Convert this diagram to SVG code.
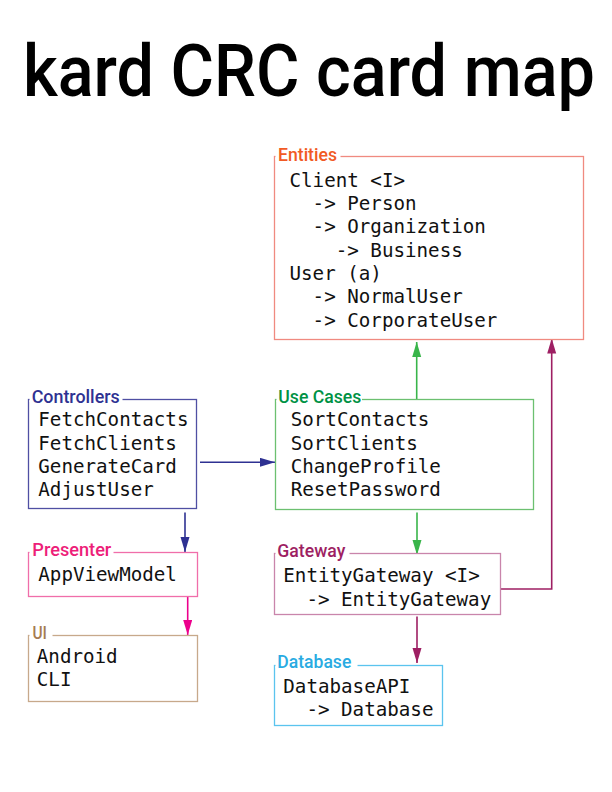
<svg xmlns="http://www.w3.org/2000/svg" width="612" height="792" viewBox="0 0 612 792">
<style>
  .title { font-family: Roboto, "Liberation Sans", sans-serif; font-weight: 500; font-size: 72px; fill: #000; }
  .lbl { font-family: Roboto, "Liberation Sans", sans-serif; font-weight: 500; font-size: 18px; }
  .mono { font-family: "DejaVu Sans Mono", "Liberation Mono", monospace; font-size: 19.2px; fill: #111; }
  .box { fill: #fff; stroke-width: 1.3; }
  .bg { fill: #fff; stroke: none; }
  .con { fill: none; stroke-width: 1.6; }
</style>
<defs>
  <marker id="ah-navy" markerUnits="userSpaceOnUse" markerWidth="16" markerHeight="10" refX="15" refY="4.5" orient="auto"><path d="M0,0 L15,4.5 L0,9 z" fill="#2E3192"/></marker>
  <marker id="ah-green" markerUnits="userSpaceOnUse" markerWidth="16" markerHeight="10" refX="15" refY="4.5" orient="auto"><path d="M0,0 L15,4.5 L0,9 z" fill="#39B54A"/></marker>
  <marker id="ah-pink" markerUnits="userSpaceOnUse" markerWidth="16" markerHeight="10" refX="15" refY="4.5" orient="auto"><path d="M0,0 L15,4.5 L0,9 z" fill="#EC008C"/></marker>
  <marker id="ah-purple" markerUnits="userSpaceOnUse" markerWidth="16" markerHeight="10" refX="15" refY="4.5" orient="auto"><path d="M0,0 L15,4.5 L0,9 z" fill="#9E1F63"/></marker>
</defs>
<rect width="612" height="792" fill="#fff"/>
<text class="title" x="23" y="95.5" textLength="572" lengthAdjust="spacingAndGlyphs">kard CRC card map</text>

<g id="connectors">
  <line class="con" stroke="#2E3192" x1="200" y1="462.3" x2="275" y2="462.3" marker-end="url(#ah-navy)"/>
  <line class="con" stroke="#2E3192" x1="185" y1="512.5" x2="185" y2="552" marker-end="url(#ah-navy)"/>
  <line class="con" stroke="#EC008C" x1="187.7" y1="597" x2="187.7" y2="635" marker-end="url(#ah-pink)"/>
  <line class="con" stroke="#39B54A" x1="416.7" y1="399.5" x2="416.7" y2="342" marker-end="url(#ah-green)"/>
  <line class="con" stroke="#39B54A" x1="417" y1="512.5" x2="417" y2="555" marker-end="url(#ah-green)"/>
  <polyline class="con" stroke="#9E1F63" points="501,589 551.7,589 551.7,338.5" marker-end="url(#ah-purple)"/>
  <line class="con" stroke="#9E1F63" x1="417" y1="616.5" x2="417" y2="663" marker-end="url(#ah-purple)"/>
</g>

<g id="entities">
  <rect class="box" stroke="#F08A80" x="274.5" y="156.5" width="309" height="183"/>
  <rect class="bg" x="275.5" y="146" width="65" height="14"/>
  <text class="lbl" fill="#F15A24" x="278" y="161" textLength="59" lengthAdjust="spacingAndGlyphs">Entities</text>
  <text class="mono" x="289.5" y="186.5">Client &lt;I&gt;</text>
  <text class="mono" x="312.6" y="209.8">-&gt; Person</text>
  <text class="mono" x="312.6" y="233.1">-&gt; Organization</text>
  <text class="mono" x="335.7" y="256.5">-&gt; Business</text>
  <text class="mono" x="289.5" y="280">User (a)</text>
  <text class="mono" x="312.6" y="303.4">-&gt; NormalUser</text>
  <text class="mono" x="312.6" y="326.7">-&gt; CorporateUser</text>
</g>

<g id="controllers">
  <rect class="box" stroke="#4F4FA3" x="28.5" y="399.5" width="168" height="109"/>
  <rect class="bg" x="29.5" y="389" width="93" height="13"/>
  <text class="lbl" fill="#2E3192" x="31.7" y="403" textLength="88" lengthAdjust="spacingAndGlyphs">Controllers</text>
  <text class="mono" x="38.3" y="426.4">FetchContacts</text>
  <text class="mono" x="38.3" y="449.7">FetchClients</text>
  <text class="mono" x="38.3" y="473">GenerateCard</text>
  <text class="mono" x="38.3" y="496.4">AdjustUser</text>
</g>

<g id="use-cases">
  <rect class="box" stroke="#6CC070" x="275.5" y="399.5" width="258" height="110"/>
  <rect class="bg" x="276.5" y="389" width="85.5" height="13"/>
  <text class="lbl" fill="#009245" x="278.3" y="403" textLength="83" lengthAdjust="spacingAndGlyphs">Use Cases</text>
  <text class="mono" x="290.7" y="426.4">SortContacts</text>
  <text class="mono" x="290.7" y="449.7">SortClients</text>
  <text class="mono" x="290.7" y="473">ChangeProfile</text>
  <text class="mono" x="290.7" y="496.4">ResetPassword</text>
</g>

<g id="presenter">
  <rect class="box" stroke="#F06EAA" x="28.5" y="552.5" width="169" height="44"/>
  <rect class="bg" x="29.5" y="542" width="84" height="13"/>
  <text class="lbl" fill="#ED1E79" x="32.3" y="556" textLength="79" lengthAdjust="spacingAndGlyphs">Presenter</text>
  <text class="mono" x="38.3" y="580.7">AppViewModel</text>
</g>

<g id="ui">
  <rect class="box" stroke="#C7A98B" x="28.5" y="635.5" width="169" height="66"/>
  <rect class="bg" x="29.5" y="625" width="23" height="13"/>
  <text class="lbl" fill="#A67C52" x="32.5" y="638.5" textLength="14.5" lengthAdjust="spacingAndGlyphs">UI</text>
  <text class="mono" x="36.8" y="663">Android</text>
  <text class="mono" x="36.8" y="686.4">CLI</text>
</g>

<g id="gateway">
  <rect class="box" stroke="#C985AB" x="274.5" y="553.5" width="226" height="61"/>
  <rect class="bg" x="275.5" y="543" width="74" height="13"/>
  <text class="lbl" fill="#9E1F63" x="277.3" y="557.3" textLength="68" lengthAdjust="spacingAndGlyphs">Gateway</text>
  <text class="mono" x="283.3" y="582.4">EntityGateway &lt;I&gt;</text>
  <text class="mono" x="306.4" y="605.7">-&gt; EntityGateway</text>
</g>

<g id="database">
  <rect class="box" stroke="#5BC4EE" x="274.5" y="665.5" width="168" height="60"/>
  <rect class="bg" x="275.5" y="655" width="82" height="13"/>
  <text class="lbl" fill="#29ABE2" x="277.3" y="668.3" textLength="74" lengthAdjust="spacingAndGlyphs">Database</text>
  <text class="mono" x="283.3" y="693">DatabaseAPI</text>
  <text class="mono" x="306.4" y="716.4">-&gt; Database</text>
</g>
</svg>
